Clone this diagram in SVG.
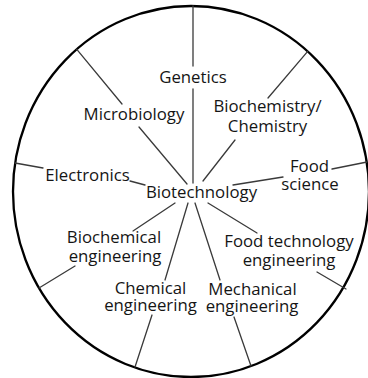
<svg xmlns="http://www.w3.org/2000/svg" width="368" height="378" viewBox="0 0 368 378">
<style>
.lbl{font-family:"Open Sans","Liberation Sans",sans-serif;font-size:16.8px;fill:#151515;text-anchor:middle}
.sp{stroke:#3a3a3a;stroke-width:1.3;fill:none;stroke-linecap:round}
.rim{stroke:#000;stroke-width:2.3;fill:#fff}
</style>
<rect width="368" height="378" fill="#fff"/>
<g id="rim"><ellipse class="rim" cx="191" cy="191.5" rx="178" ry="185.5"/></g>
<g id="connectors">
<line class="sp" x1="193" y1="6" x2="193" y2="66"/>
<line class="sp" x1="193" y1="89" x2="193" y2="183"/>
<line class="sp" x1="76.8" y1="49.3" x2="122" y2="104"/>
<line class="sp" x1="139" y1="127" x2="187" y2="184"/>
<line class="sp" x1="307.7" y1="51.3" x2="268" y2="98"/>
<line class="sp" x1="235" y1="140" x2="203" y2="181"/>
<line class="sp" x1="15" y1="163" x2="43" y2="168"/>
<line class="sp" x1="130" y1="181" x2="145" y2="185"/>
<line class="sp" x1="367" y1="162" x2="332" y2="169"/>
<line class="sp" x1="283" y1="177" x2="233" y2="185"/>
<line class="sp" x1="175" y1="203" x2="133" y2="231"/>
<line class="sp" x1="75" y1="266" x2="39" y2="288"/>
<line class="sp" x1="188" y1="203" x2="165" y2="280"/>
<line class="sp" x1="152" y1="315" x2="135" y2="367"/>
<line class="sp" x1="195" y1="203" x2="220" y2="280"/>
<line class="sp" x1="234" y1="317" x2="251" y2="366"/>
<line class="sp" x1="208" y1="203" x2="257" y2="233"/>
<line class="sp" x1="317" y1="272" x2="346" y2="289"/>
</g>
<g id="biotechnology"><text class="lbl" x="201.5" y="198">Biotechnology</text></g>
<g id="genetics"><text class="lbl" x="193" y="83">Genetics</text></g>
<g id="microbiology"><text class="lbl" x="134" y="120">Microbiology</text></g>
<g id="biochemistry"><text class="lbl" x="267.5" y="112">Biochemistry/</text><text class="lbl" x="267.5" y="132">Chemistry</text></g>
<g id="electronics"><text class="lbl" x="87.5" y="181">Electronics</text></g>
<g id="food-science"><text class="lbl" x="309.5" y="172">Food</text><text class="lbl" x="310" y="190">science</text></g>
<g id="biochemical-engineering"><text class="lbl" x="114" y="243">Biochemical</text><text class="lbl" x="115" y="261.5">engineering</text></g>
<g id="chemical-engineering"><text class="lbl" x="150.5" y="293.5">Chemical</text><text class="lbl" x="150.5" y="311">engineering</text></g>
<g id="mechanical-engineering"><text class="lbl" x="252.5" y="295">Mechanical</text><text class="lbl" x="252" y="312">engineering</text></g>
<g id="food-technology-engineering"><text class="lbl" x="289" y="247">Food technology</text><text class="lbl" x="289" y="265.5">engineering</text></g>
</svg>
